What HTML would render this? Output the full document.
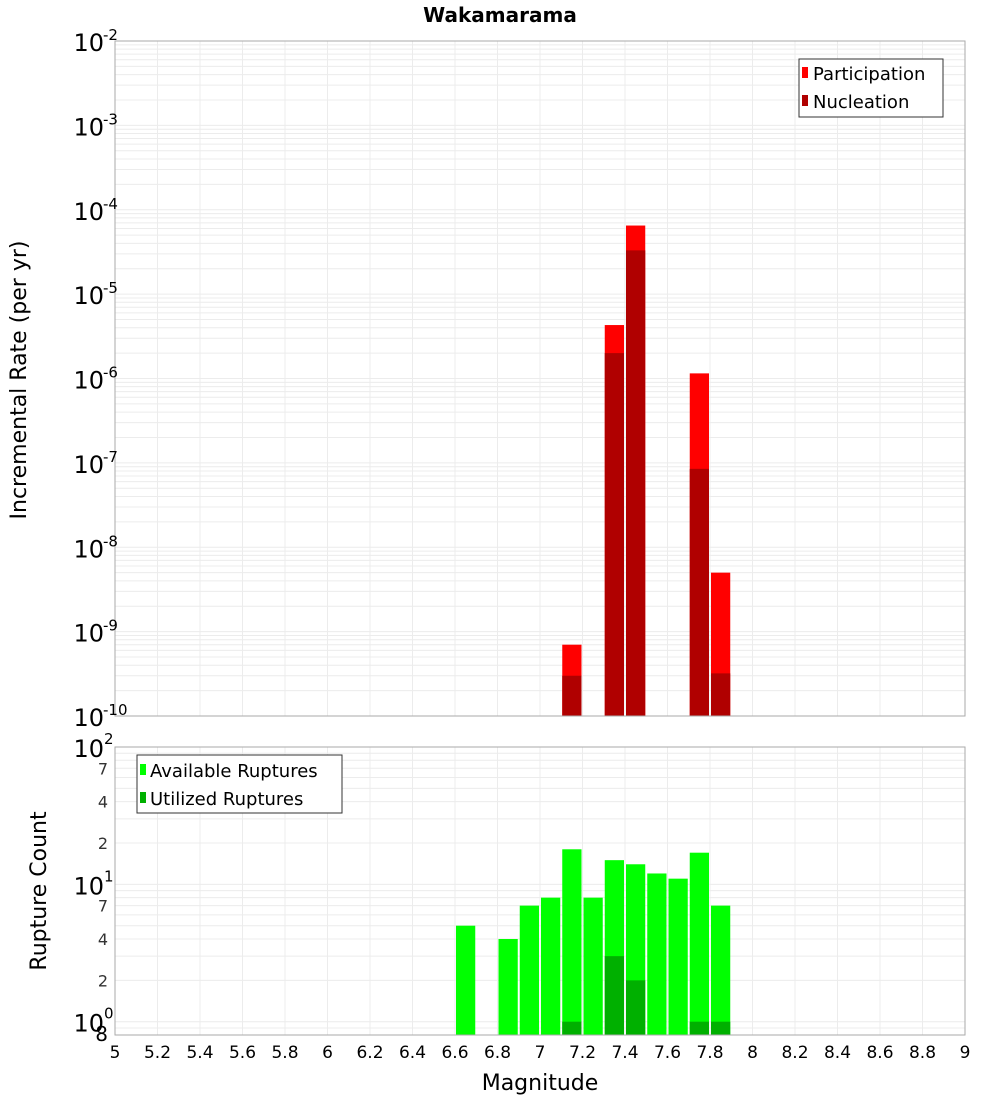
<!DOCTYPE html>
<html><head><meta charset="utf-8"><style>
body{margin:0;background:#fff;font-family:"Liberation Sans","DejaVu Sans",sans-serif}
svg text{font-family:"DejaVu Sans","Liberation Sans",sans-serif}
</style></head><body>
<svg id="c" width="1000" height="1100" xmlns="http://www.w3.org/2000/svg">
<text x="500" y="22" text-anchor="middle" font-size="20" font-weight="bold">Wakamarama</text>
<text transform="translate(26,380) rotate(-90)" text-anchor="middle" font-size="22">Incremental Rate (per yr)</text>
<text transform="translate(46,891) rotate(-90)" text-anchor="middle" font-size="22">Rupture Count</text>
<text x="540" y="1090" text-anchor="middle" font-size="22">Magnitude</text>
</svg>
<script>
const bins=[6.65,6.85,6.95,7.05,7.15,7.25,7.35,7.45,7.55,7.65,7.75,7.85];
const partMags=[7.15,7.35,7.45,7.75,7.85];
const participation=[7e-10,4.3e-6,6.5e-5,1.15e-6,5e-9];
const nucleation=[3e-10,2e-6,3.3e-5,8.5e-8,3.2e-10];
const available=[5,4,7,8,18,8,15,14,12,11,17,7];
const utilMags=[7.15,7.35,7.45,7.75,7.85];
const utilized=[1,3,2,1,1];
const xTicks=[5,5.2,5.4,5.6,5.8,6,6.2,6.4,6.6,6.8,7,7.2,7.4,7.6,7.8,8,8.2,8.4,8.6,8.8,9];
const topDecades=[-2,-3,-4,-5,-6,-7,-8,-9,-10];
const botMinorLabels=[[70,'7'],[40,'4'],[20,'2'],[7,'7'],[4,'4'],[2,'2'],[0.8,'8']];

const svg=document.getElementById('c');const NS='http://www.w3.org/2000/svg';
function el(t,a,p){const e=document.createElementNS(NS,t);for(const k in a)e.setAttribute(k,a[k]);(p||svg).appendChild(e);return e;}
const L=115,R=965;
const X=m=>L+(m-5)/4*(R-L);
const T0=41,T1=716;
const YT=v=>T0+(-2-Math.log10(v))/8*(T1-T0);
const B0=747,B1=1035;
const YB=v=>B0+(2-Math.log10(v))/(2-Math.log10(0.8))*(B1-B0);

// top panel
const gTop=el('g',{});


el('rect',{x:L,y:T0,width:R-L,height:T1-T0,fill:'#fff'},gTop);
for(let d=-10;d<-2;d++)for(let k=1;k<10;k++){const y=YT(k*Math.pow(10,d));el('line',{x1:L,x2:R,y1:y,y2:y,stroke:'#ececec','stroke-width':1},gTop);}
xTicks.forEach(t=>{const x=X(t);el('line',{x1:x,x2:x,y1:T0,y2:T1,stroke:'#ececec'},gTop);el('line',{x1:x,x2:x,y1:B0,y2:B1,stroke:'#ececec'});});
for(let d=-1;d<2;d++)for(let k=1;k<10;k++){const v=k*Math.pow(10,d);if(v<0.8||v>100)continue;const y=YB(v);el('line',{x1:L,x2:R,y1:y,y2:y,stroke:'#ececec'});}
const bw=(X(5.1)-X(5))-2;
partMags.forEach((m,i)=>{
 const x=X(m)-bw/2;
 const r=el('rect',{x:x,y:YT(participation[i]),width:bw,height:T1-YT(participation[i]),fill:'#ff0000'},gTop);
 
 
 const n=el('rect',{x:x,y:YT(nucleation[i]),width:bw,height:T1-YT(nucleation[i]),fill:'#b00000'},gTop);
 
 
});
el('rect',{x:L,y:T0,width:R-L,height:T1-T0,fill:'none',stroke:'#aaa'},gTop);
topDecades.forEach(d=>{const y=YT(Math.pow(10,d));const t=el('text',{x:104,y:y+10,'text-anchor':'end','font-size':24},gTop);
 
 
 t.textContent='10';const s=el('text',{x:103,y:y-1,'font-size':15},gTop);s.textContent=String(d);
 
 });
// top legend
const lg=el('g',{});


el('rect',{x:799,y:59,width:144,height:58,fill:'#fff',stroke:'#333'},lg);
el('rect',{x:802,y:67,width:6,height:11,fill:'#ff0000'},lg);
el('rect',{x:802,y:95,width:6,height:11,fill:'#b00000'},lg);
let t1=el('text',{x:813,y:80,'font-size':18},lg);t1.textContent='Participation';
let t2=el('text',{x:813,y:108,'font-size':18},lg);t2.textContent='Nucleation';

// bottom panel bars
bins.forEach((m,i)=>{const x=X(m)-bw/2;const r=el('rect',{x:x,y:YB(available[i]),width:bw,height:B1-YB(available[i]),fill:'#00ff00'});
 
 });
utilMags.forEach((m,i)=>{const x=X(m)-bw/2;const r=el('rect',{x:x,y:YB(utilized[i]),width:bw,height:B1-YB(utilized[i]),fill:'#00b000'});
 
 });
el('rect',{x:L,y:B0,width:R-L,height:B1-B0,fill:'none',stroke:'#aaa'});
[[100,'2'],[10,'1'],[1,'0']].forEach(([v,e])=>{const y=YB(v);const t=el('text',{x:104,y:y+10,'text-anchor':'end','font-size':24});t.textContent='10';
 
 
 const s=el('text',{x:104,y:y-3,'font-size':15});s.textContent=e;});
botMinorLabels.forEach(([v,s])=>{const y=YB(v);const t=el('text',{x:108,y:y+6,'text-anchor':'end','font-size':v<1?20:16,fill:v<1?'#000':'#333'});t.textContent=s;
 
 });
xTicks.forEach(tk=>{const t=el('text',{x:X(tk),y:1058,'text-anchor':'middle','font-size':17});t.textContent=String(tk);
 
 });
// bottom legend
const lb=el('g',{});


el('rect',{x:137,y:755,width:205,height:58,fill:'#fff',stroke:'#333'},lb);
el('rect',{x:140,y:764,width:6,height:11,fill:'#00ff00'},lb);
el('rect',{x:140,y:792,width:6,height:11,fill:'#00b000'},lb);
let t3=el('text',{x:150,y:777,'font-size':18},lb);t3.textContent='Available Ruptures';
let t4=el('text',{x:150,y:805,'font-size':18},lb);t4.textContent='Utilized Ruptures';
</script>
</body></html>
